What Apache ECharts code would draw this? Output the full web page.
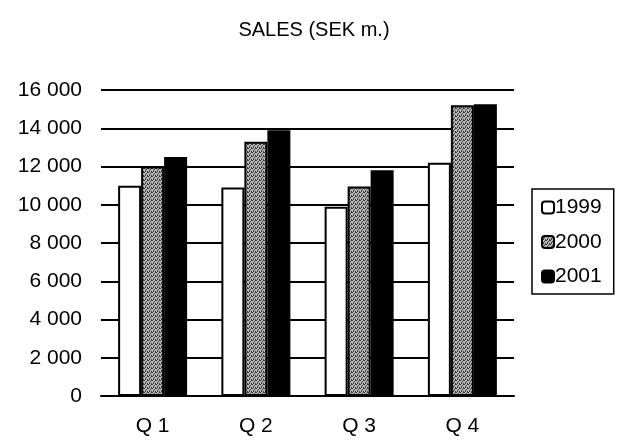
<!DOCTYPE html>
<html>
<head>
<meta charset="utf-8">
<script src="https://cdn.jsdelivr.net/npm/echarts@6/dist/echarts.min.js"></script>
<style>
  html, body { margin: 0; padding: 0; background: #fff; }
  #chart { width: 628px; height: 440px; }
</style>
</head>
<body>
<div id="chart"></div>
<script>
// quarterly sales, SEK m.
var quarters = ['Q 1', 'Q 2', 'Q 3', 'Q 4'];
var years = ['1999', '2000', '2001'];
var sales1999 = [11000, 10900, 9900, 12200];
var sales2000 = [12000, 13300, 10950, 15200];
var sales2001 = [12500, 13900, 11800, 15250];

// speckled grey fill for the 2000 bars (fixed dither, no randomness)
function speckle() {
    var c = document.createElement('canvas');
    c.width = 4; c.height = 4;
    var ctx = c.getContext('2d');
    ctx.fillStyle = '#b8b8b8';
    ctx.fillRect(0, 0, 4, 4);
    ctx.fillStyle = '#3a3a3a';
    [[0, 0], [2, 1], [1, 2], [3, 3], [3, 0], [1, 3]].forEach(function (p) {
        ctx.fillRect(p[0], p[1], 1, 1);
    });
    return c;
}

var myChart = echarts.init(document.getElementById('chart'));
var fontFam = 'Liberation Sans, Arial, sans-serif';

var option = {
    animation: false,
    backgroundColor: '#fff',
    title: {
        text: 'SALES (SEK m.)',
        left: 'center',
        top: 15,
        textStyle: { fontFamily: fontFam, fontSize: 20, fontWeight: 'normal', color: '#000' }
    },
    legend: {
        orient: 'vertical',
        left: 532,
        top: 189,
        padding: [8, 12, 7, 9],
        itemGap: 13.5,
        itemWidth: 12,
        itemHeight: 12,
        borderColor: '#000',
        borderWidth: 1.5,
        textStyle: { fontFamily: fontFam, fontSize: 21, color: '#000', padding: [0, 0, 0, -4] },
        data: years
    },
    grid: { left: 101, right: 114, top: 90, bottom: 44 },
    xAxis: {
        type: 'category',
        data: quarters,
        axisLine: { lineStyle: { color: '#000', width: 2 } },
        axisTick: { show: false },
        axisLabel: { fontFamily: fontFam, fontSize: 21, color: '#000', margin: 20 }
    },
    yAxis: {
        type: 'value',
        min: 0,
        max: 16000,
        interval: 2000,
        axisLine: { show: false },
        axisTick: { show: false },
        splitLine: { lineStyle: { color: '#000', width: 2 } },
        axisLabel: {
            fontFamily: fontFam, fontSize: 21, color: '#000', margin: 19,
            formatter: function (v) { return v >= 1000 ? Math.floor(v / 1000) + ' 000' : String(v); }
        }
    },
    series: [
        {
            name: '1999', type: 'bar', data: sales1999,
            barWidth: 23, barGap: '0%',
            itemStyle: { color: '#fff', borderColor: '#000', borderWidth: 2 }
        },
        {
            name: '2000', type: 'bar', data: sales2000,
            barWidth: 23, barGap: '0%',
            itemStyle: { color: { image: speckle(), repeat: 'repeat' }, borderColor: '#000', borderWidth: 2 }
        },
        {
            name: '2001', type: 'bar', data: sales2001,
            barWidth: 23, barGap: '0%',
            itemStyle: { color: '#000', borderColor: '#000', borderWidth: 2 }
        }
    ]
};

myChart.setOption(option);
</script>
</body>
</html>
